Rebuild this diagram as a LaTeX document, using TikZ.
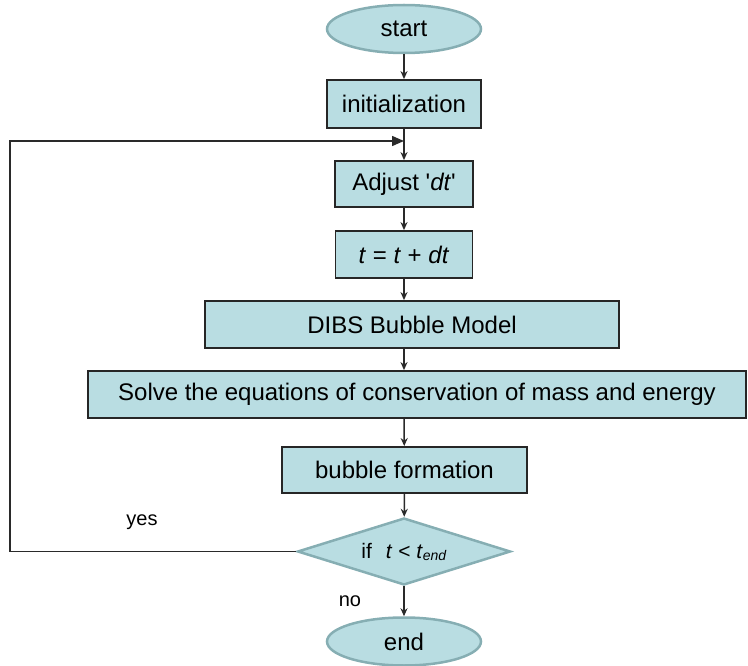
\documentclass[tikz,border=0pt]{standalone}
\usepackage{fontspec}
\setmainfont{Liberation Sans}
\usetikzlibrary{shapes.geometric,arrows.meta}
\definecolor{boxfill}{HTML}{B9DDE2}
\definecolor{softedge}{HTML}{86AEB3}
\definecolor{linec}{HTML}{2A2A2A}
\begin{document}
\begin{tikzpicture}[x=1pt,y=-1pt,
  font=\fontsize{24}{28}\selectfont,
  box/.style={draw=black!85, line width=1.8pt, fill=boxfill, inner sep=0pt, minimum height=47pt},
  term/.style={ellipse, draw=softedge, line width=2.5pt, fill=boxfill, minimum width=154pt, minimum height=48pt, inner sep=0pt},
  decision/.style={diamond, draw=softedge, line width=2.5pt, fill=boxfill, minimum width=213pt, minimum height=67pt, inner sep=0pt, aspect=3.2},
  arr/.style={draw=linec, line width=1.5pt, -{Stealth[length=8pt,width=7pt]}},
  looparr/.style={draw=linec, line width=1.5pt, -{Triangle[length=12pt,width=10pt]}},
  lbl/.style={font=\fontsize{20}{24}\selectfont, inner sep=0pt}]
\useasboundingbox (0,0) rectangle (748,666);
\node[term] (start) at (404,29) {start};
\node[box, minimum width=154pt, minimum height=48pt] (init) at (404,104) {initialization};
\node[box, minimum width=138pt, minimum height=46pt] (adj) at (404,184) {Adjust \textquotesingle\textit{dt}\textquotesingle};
\node[box, minimum width=137pt] (tdt) at (404,254.5) {\textit{t} = \textit{t} + \textit{dt}};
\node[box, minimum width=414pt] (dibs) at (412,324.5) {DIBS Bubble Model};
\node[box, minimum width=658pt] (solve) at (417,394.5) {Solve the equations of conservation of mass and energy};
\node[box, minimum width=245pt, minimum height=46pt] (bub) at (404.5,470) {bubble formation};
\node[decision, font=\fontsize{21}{24}\selectfont] (dec) at (404,551.5) {if\hspace{14pt}\textit{t} {<} \textit{t}\raisebox{-2pt}{\fontsize{14}{14}\selectfont\textit{end}}};
\node[term] (end) at (404,641.5) {end};
\coordinate (loopL) at (10,551.5);
\coordinate (loopT) at (10,141);
\coordinate (join) at (404,141);
\node[lbl] (yes) at (142,522) {yes};
\node[lbl] (no) at (350,601) {no};
\draw[arr] (start) -- (init);
\draw[arr] (init) -- (adj);
\draw[looparr] (dec.west) -- (loopL) -- (loopT) -- (join);
\draw[arr] (adj) -- (tdt);
\draw[arr] (tdt) -- (tdt |- dibs.north);
\draw[arr] (dibs.south -| tdt) -- (solve.north -| tdt);
\draw[arr] (solve.south -| tdt) -- (bub);
\draw[arr] (bub) -- (dec);
\draw[arr] (dec) -- (end);
\end{tikzpicture}
\end{document}
